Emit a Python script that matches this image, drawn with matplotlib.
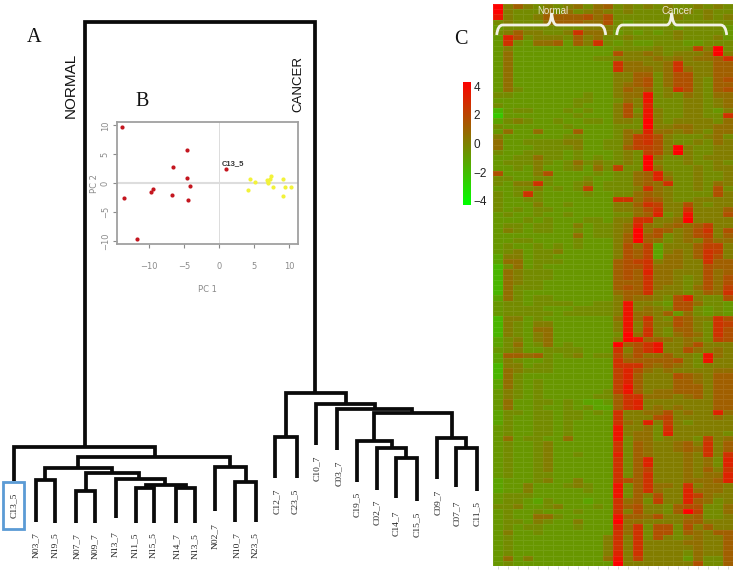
import numpy as np
import matplotlib
matplotlib.use("Agg")
import matplotlib.pyplot as plt
from matplotlib.colors import LinearSegmentedColormap, Normalize
from matplotlib.path import Path
from matplotlib.patches import PathPatch, Rectangle

W, H = 734, 570
SERIF = "Liberation Serif"
SANS = "Liberation Sans"

# ---- dendrogram links (left x, right x, bar height, left foot, right foot)
link_x0 = [85, 14, 78, 45, 36, 86, 76, 116, 146, 136, 176, 215, 234.7,
           285.7, 275, 316, 337.3, 374, 356.7, 377, 395.7, 436.7, 456]
link_x1 = [315, 155, 230, 112, 54.5, 139, 94.7, 165, 186, 154.3, 195, 246, 256,
           345.7, 296.7, 375, 412.3, 451.7, 391.7, 406, 416.7, 466, 477.3]
link_top = [22, 446.7, 456.7, 467.7, 480, 472.7, 491, 479.3, 485.3, 488.3, 488.3, 466.7, 482.3,
            393.3, 437.3, 404, 409, 413.3, 441, 448.3, 457.7, 438.3, 448]
link_y0 = [446.7, 481, 467.7, 480, 521.7, 491, 523, 518, 488.3, 523, 523, 511, 521.7,
           437.3, 477.7, 445, 450, 441, 481.7, 490, 498.3, 479.3, 486.7]
link_y1 = [393.3, 456.7, 466.7, 472.7, 522.7, 479.3, 523, 485.3, 488.3, 523, 523, 482.3, 521.7,
           404, 477.7, 409, 413.3, 438.3, 448.3, 457.7, 500.7, 448, 491]

leaf_names = ["C13_5", "N03_7", "N19_5", "N07_7", "N09_7", "N13_7", "N11_5", "N15_5", "N14_7",
              "N13_5", "N02_7", "N10_7", "N23_5", "C12_7", "C23_5", "C10_7", "C03_7", "C19_5",
              "C02_7", "C14_7", "C15_5", "C09_7", "C07_7", "C11_5"]
leaf_x = [13.5, 36, 54.5, 77, 95, 115, 135, 153, 177, 195, 215, 237, 255,
          277, 295, 317, 338.5, 357, 377, 396, 417, 438, 457, 477]
leaf_y = [505, 545.5, 545.5, 546, 546, 544, 545.5, 545.5, 546, 546, 536, 545.5, 545.5,
          501.5, 501.5, 468, 473.5, 504, 512, 523, 524, 502.5, 513, 514]

# ---- PCA scores
red_pc1 = [-13.8, -4.5, -6.5, -4.6, -4.2, -9.4, -9.7, -6.7, -13.6, -4.4, -11.7, 1.0]
red_pc2 = [9.7, 5.8, 2.9, 1.0, -0.5, -0.9, -1.5, -2.0, -2.6, -2.8, -9.6, 2.4]
yellow_pc1 = [4.4, 5.2, 4.2, 6.9, 7.0, 7.3, 7.5, 7.0, 7.7, 9.1, 9.5, 9.1, 10.3]
yellow_pc2 = [0.7, 0.2, -1.1, 0.6, 0.3, 0.7, 1.2, 0.1, -0.6, 0.7, -0.6, -2.2, -0.7]

# ---- heat map: one character per cell, index into heat_levels
heat_levels = [-2.4, -1.8, -1.2, -0.8, -0.4, 0.1, 0.6, 1.1, 1.6, 2.1, 2.6, 3.1, 3.6, 4.2]
normal_rows = [
 "d57545456467", "d54446464565", "c54457777868", "454446777668", "344444444555", "45755445a665",
 "3b8455547564", "3a43667375a4", "353333333333", "363333333333", "363333333344", "363333333333",
 "363333333333", "363333333333", "363333333333", "363333333333", "364333333333", "443333333433",
 "333333334433", "433333334333", "134433343433", "033333334333", "245433433443", "433333343333",
 "363363337333", "533333344333", "633444455334", "633344445334", "433444434333", "334464434343",
 "344454346454", "334353345364", "833358333343", "443344333433", "4355a4334534", "334453434934",
 "434a43333433", "433443333333", "433353343333", "434344333333", "343343343333", "333434333443",
 "344344335344", "354344334344", "333333336344", "334433334333", "343343434333", "345344533333",
 "255344333333", "266344433333", "146343333333", "165444333333", "165444333333", "165443333333",
 "164443333333", "164333333333", "264344333333", "344344443344", "344443334444", "344444344444",
 "155343333333", "154355333333", "154366333333", "154356333333", "245356333333", "246346343333",
 "345334444333", "277674345344", "254334333333", "155344333333", "165444333333", "164333333333",
 "264343333333", "264343333333", "354343333334", "354343333344", "363344343223", "363343343422",
 "244344344343", "243344344333", "243344343333", "343344343333", "343344343333", "363443363333",
 "343345333333", "343345333333", "343345334333", "343345333333", "343345333333", "343345333333",
 "343344333333", "233345335333", "233533345433", "233533333433", "344433333333", "344324333233",
 "445334533343", "343343334333", "343366433333", "344354335333", "343443334333", "353343333333",
 "343333333335", "343333333335", "343333333335", "343333333335", "363533333336", "343333333333",
]
cancer_rows = [
 "454545445454", "454445454544", "444444544545", "434444444444", "444444344443", "343434544443",
 "454444544453", "343344433444", "4444544495d4", "8556545556d5", "55556565667a", "a66556a55577",
 "a66656a65577", "557746885577", "557846885478", "567846885477", "576745a85478", "566c45465466",
 "465c44455456", "585b44455456", "584c54455435", "585c5445544a", "554d54555546", "444d55665566",
 "465b66565466", "469a85444564", "469a85445465", "479985d54455", "454985d54455", "454d64454555",
 "454d54454454", "944d64445455", "4467b5445445", "4467b6445445", "44676a445465", "445a65445484",
 "446765444485", "aa6875445555", "557a95585455", "5568a55a5557", "4467b45c5558", "55aa556d5555",
 "56b656767955", "56d687568a58", "57d784568957", "57d764565866", "586925557995", "587925657a95",
 "587926657a85", "789a56655a77", "788a66655877", "787b66555867", "787a66545868", "777a66545868",
 "787a65546869", "677a5554576a", "5766548b5448", "5c5543886443", "5c5654884343", "5c6657364343",
 "6c6a548755a8", "5c59558754a9", "5c5a547754a8", "4d6a546764a8", "5dc776565498", "d78ac5568555",
 "a58ac5586565", "968667554c65", "a77777854c55", "aaa767654555", "9b8656555566", "9b7555876577",
 "9b7555776577", "9c7555777577", "9c7566777577", "7aa666567577", "7ab555555577", "7ab565655577",
 "a556685655b6", "a55589555565", "a65b59545555", "c5564a555555", "c5664b555554", "c46645554956",
 "a47655675a57", "a47655676a57", "b47655565a5a", "a47b5556564b", "a47b5556564b", "a4795556575a",
 "a47a5556566b", "a87a5556667b", "c47a665a5665", "c47a655b6665", "c475855b9655", "a674955b7645",
 "a78554788446", "a585547d9446", "c77685567445", "d66555577555", "b6a488485755", "a6a488476577",
 "a5a485456557", "a5a555566557", "a5a555556557", "b5a555546557", "c59555536447", "d55555558447",
]
colorbar_ticks = [-4, -2, 0, 2, 4]
pc_ticks = [-10, -5, 0, 5, 10]
pc2_ticks = [-10, -5, 0, 5, 10]


def box(fig, x0, y0, x1, y1, **kw):
    return fig.add_axes([x0 / W, 1 - y1 / H, (x1 - x0) / W, (y1 - y0) / H], **kw)


fig = plt.figure(figsize=(W / 100, H / 100), dpi=100, facecolor="white")

# ---- full-figure layer for the dendrogram and lettering
bg = box(fig, 0, 0, W, H)
bg.set_xlim(0, W)
bg.set_ylim(H, 0)
bg.axis("off")
for x0, x1, t, y0, y1 in zip(link_x0, link_x1, link_top, link_y0, link_y1):
    bg.plot([x0, x0, x1, x1], [y0, t, t, y1], color="#0a0a0a", lw=2.7,
            solid_joinstyle="miter", solid_capstyle="butt")
for name, x, y in zip(leaf_names, leaf_x, leaf_y):
    bg.text(x, y, name, rotation=90, ha="center", va="center", family=SERIF, fontsize=6.8, color="#222222")
bg.add_patch(Rectangle((2.5, 481.5), 21.5, 47, fill=False, ec="#5b9bd5", lw=2))
for s, x, y in [("A", 34, 38), ("B", 142, 101), ("C", 461, 39)]:
    bg.text(x, y, s, ha="center", va="center", family=SERIF, fontsize=14.5, color="#111111")
bg.text(71, 85, "NORMAL", rotation=90, ha="center", va="center", family=SANS, fontsize=11, color="#111111")
bg.text(298, 84, "CANCER", rotation=90, ha="center", va="center", family=SANS, fontsize=9.5, color="#111111")

# ---- inset PCA
GR = "#8a8a8a"
ax = box(fig, 116.7, 122.3, 298.3, 244)
ax.set_xlim(-14.6, 11.33)
ax.set_ylim(-10.49, 10.55)
ax.axhline(0, color="#dddddd", lw=1.5, zorder=1)
ax.axvline(0, color="#dcdcdc", lw=0.7, zorder=1)
ax.scatter(red_pc1, red_pc2, s=9, color="#c4161f", zorder=3, lw=0)
ax.scatter(yellow_pc1, yellow_pc2, s=9, color="#f2f23a", zorder=3, lw=0)
ax.text(0.45, 3.4, "C13_5", fontsize=5.5, family=SANS, color="#333333", ha="left", va="center", fontweight="bold")
ax.set_xticks(pc_ticks)
ax.set_yticks(pc2_ticks)
ax.tick_params(axis="x", length=3, width=0.8, color=GR, labelcolor=GR, labelsize=6, pad=10)
ax.tick_params(axis="y", length=3, width=0.8, color=GR, labelcolor=GR, labelsize=6, pad=2, labelrotation=90)
for t in ax.get_yticklabels():
    t.set_va("center")
for s in ax.spines.values():
    s.set_color("#a0a0a0")
    s.set_linewidth(1.3)
ax.set_xlabel("PC 1", fontsize=6, color=GR, labelpad=10)
ax.set_ylabel("PC 2", fontsize=6, color=GR, labelpad=1)

# ---- heat map
cmap = LinearSegmentedColormap.from_list("gr", ["#00ff00", "#ff0000"])
norm = Normalize(-4.3, 4.3)
codes = "0123456789abcd"
rows = [a + b for a, b in zip(normal_rows, cancer_rows)]
matrix = np.array([[heat_levels[codes.index(c)] for c in r] for r in rows], dtype=float)
hm = box(fig, 492.5, 4, 732.8, 566)
hm.pcolormesh(matrix, cmap=cmap, norm=norm, edgecolors=(1, 1, 1, 0.08), linewidth=0.4)
hm.set_ylim(matrix.shape[0], 0)
hm.set_xticks(np.arange(matrix.shape[1]) + 0.5)
hm.set_yticks([])
hm.tick_params(axis="x", length=2, width=0.5, color="#c8c8c8", labelbottom=False)
for s in hm.spines.values():
    s.set_visible(False)

# ---- colour key
cb = box(fig, 463.3, 81.7, 471, 205)
grad = np.linspace(-4.3, 4.3, 256).reshape(-1, 1)
cb.imshow(grad, cmap=cmap, norm=norm, origin="lower", aspect="auto", extent=[0, 1, -4.3, 4.3])
cb.set_xticks([])
cb.yaxis.tick_right()
cb.set_yticks(colorbar_ticks)
cb.set_yticklabels([str(v).replace("-", "\u2212") for v in colorbar_ticks])
cb.tick_params(axis="y", length=0, pad=2, labelsize=8.5, labelcolor="#222222")
for t in cb.get_yticklabels():
    t.set_family(SANS)
for s in cb.spines.values():
    s.set_visible(False)

# ---- brackets and group names over the heat map
top = box(fig, 0, 0, W, H)
top.set_xlim(0, W)
top.set_ylim(H, 0)
top.axis("off")
top.patch.set_alpha(0)
for x0, xm, x1 in [(496.7, 551.7, 605.7), (616.7, 671.7, 726.7)]:
    verts = [(x0, 35), (x0 + 1, 25), (x0 + 6, 25), (xm - 5, 25), (xm - 1, 25), (xm, 13),
             (xm + 1, 25), (xm + 5, 25), (x1 - 6, 25), (x1 - 1, 25), (x1, 35)]
    code = [Path.MOVETO, Path.CURVE3, Path.CURVE3, Path.LINETO, Path.CURVE3, Path.CURVE3,
            Path.CURVE3, Path.CURVE3, Path.LINETO, Path.CURVE3, Path.CURVE3]
    top.add_patch(PathPatch(Path(verts, code), fill=False, ec="#f2f1e6", lw=2))
top.text(553, 10.5, "Normal", color="#e8e6cf", fontsize=7, family=SANS, ha="center", va="center")
top.text(677, 10.5, "Cancer", color="#e8e6cf", fontsize=7, family=SANS, ha="center", va="center")

fig.savefig("out.png", dpi=100, facecolor="white")
